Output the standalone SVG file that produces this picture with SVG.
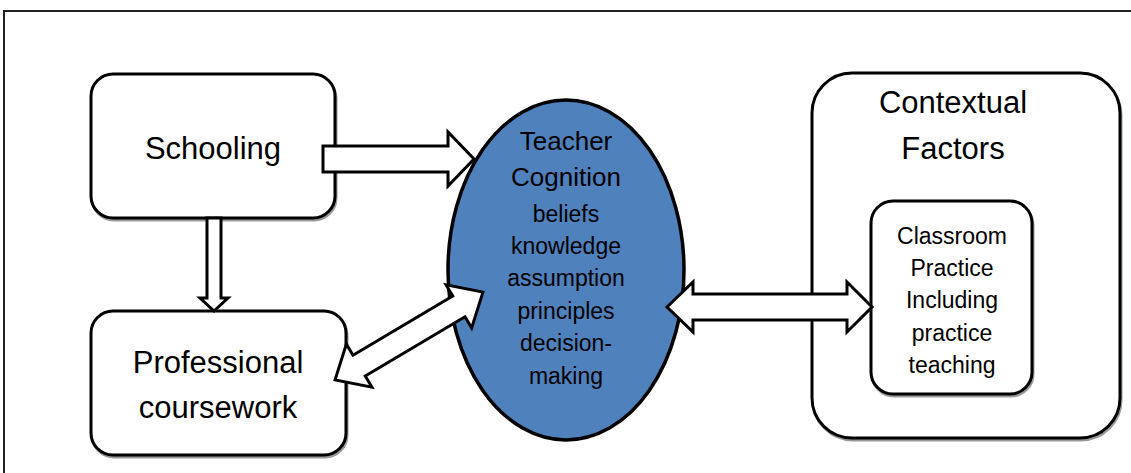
<svg xmlns="http://www.w3.org/2000/svg" width="1131" height="473" viewBox="0 0 1131 473">
<style>
.box{fill:#fff;stroke:#000;stroke-width:3}
.shadow{fill:none;stroke:#999;stroke-width:3}
.arrow{fill:#fff;stroke:#000;stroke-width:3;stroke-linejoin:miter}
text{font-family:"Liberation Sans",Arial,sans-serif;fill:#000;text-anchor:middle}
.big{font-size:31px}
.mid{font-size:26px}
.sm{font-size:23px}
</style>
<rect width="1131" height="473" fill="#fff"/>
<rect x="4" y="11" width="1140" height="480" fill="none" stroke="#222" stroke-width="2"/>
<g id="schooling">
<rect class="shadow" x="92" y="76" width="244" height="144" rx="22"/>
<rect class="box" x="91" y="74" width="244" height="144" rx="22"/>
<text class="big" x="213" y="159">Schooling</text>
</g>
<g id="professional-coursework">
<rect class="shadow" x="92" y="313" width="255" height="144" rx="22"/>
<rect class="box" x="91" y="311" width="255" height="144" rx="22"/>
<text class="big" x="218" y="373">Professional</text>
<text class="big" x="218" y="418">coursework</text>
</g>
<g id="teacher-cognition">
<ellipse cx="566" cy="270" rx="118" ry="170" fill="#4F81BD" stroke="#000" stroke-width="3.5"/>
<text class="mid" x="566" y="150">Teacher</text>
<text class="mid" x="566" y="186">Cognition</text>
<text class="sm" x="566" y="222">beliefs</text>
<text class="sm" x="566" y="254">knowledge</text>
<text class="sm" x="566" y="286">assumption</text>
<text class="sm" x="566" y="319">principles</text>
<text class="sm" x="566" y="351">decision-</text>
<text class="sm" x="566" y="384">making</text>
</g>
<g id="contextual-factors">
<rect class="shadow" x="813" y="75" width="308" height="365" rx="40"/>
<rect class="box" x="812" y="73" width="308" height="365" rx="40"/>
<text class="big" x="953" y="113">Contextual</text>
<text class="big" x="953" y="159">Factors</text>
</g>
<g id="classroom-practice">
<rect class="shadow" x="872" y="203" width="161" height="193" rx="22"/>
<rect class="box" x="871" y="201" width="161" height="193" rx="22"/>
<text class="sm" x="952" y="244">Classroom</text>
<text class="sm" x="952" y="276">Practice</text>
<text class="sm" x="952" y="308">Including</text>
<text class="sm" x="952" y="341">practice</text>
<text class="sm" x="952" y="373">teaching</text>
</g>
<g id="connectors">
<polygon class="arrow" points="323,146 448,146 448,132 474,159 448,186 448,172 323,172"/>
<polygon class="arrow" points="207,218 221,218 221,298 228,298 214,311 200,298 207,298"/>
<polygon class="arrow" transform="translate(409,336) rotate(-30.7)" points="-86,0 -58,-25 -58,-12 58,-12 58,-25 86,0 58,25 58,12 -58,12 -58,25"/>
<polygon class="arrow" points="667,307 693,282 693,294 847,294 847,282 872,307 847,332 847,320 693,320 693,332"/>
</g>
</svg>
